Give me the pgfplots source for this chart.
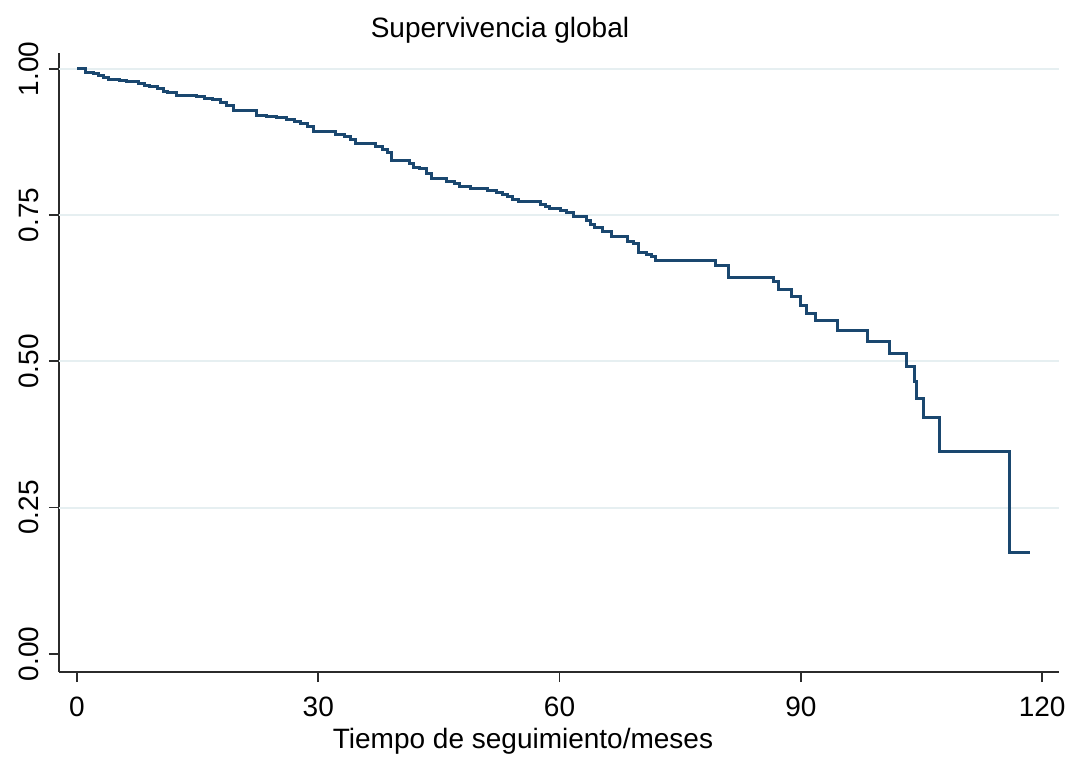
\documentclass[border=0pt]{standalone}
\usepackage{fontspec}
\setmainfont{Liberation Sans}
\usepackage{pgfplots}
\pgfplotsset{compat=1.18}

\definecolor{stnavy}{HTML}{1A476F}
\definecolor{gridc}{HTML}{E6EFF1}
\definecolor{axc}{HTML}{2B2B2B}

% Kaplan-Meier estimate: time (months), survival after the step
\pgfplotstableread{
t S
0 1.000
1.0 0.994
2.0 0.992
2.7 0.988
3.3 0.985
3.9 0.982
5.3 0.980
6.2 0.978
7.6 0.975
8.4 0.972
9.0 0.969
10.0 0.966
10.8 0.962
11.3 0.959
12.4 0.955
14.9 0.953
15.8 0.950
16.9 0.947
17.8 0.943
18.6 0.938
19.4 0.928
22.3 0.921
23.5 0.919
24.8 0.916
26.1 0.913
27.0 0.910
27.8 0.906
28.6 0.901
29.4 0.893
32.1 0.888
33.3 0.885
34.0 0.879
34.6 0.872
37.1 0.868
38.0 0.862
38.6 0.857
39.1 0.844
41.4 0.838
41.8 0.832
42.6 0.829
43.4 0.821
44.1 0.812
46.0 0.808
46.9 0.804
47.6 0.799
48.9 0.796
51.1 0.792
52.1 0.789
52.9 0.786
53.5 0.782
54.2 0.777
54.9 0.773
57.6 0.768
58.2 0.764
58.8 0.761
60.1 0.758
60.9 0.754
61.7 0.748
63.4 0.741
63.8 0.734
64.4 0.728
65.4 0.722
66.5 0.714
68.4 0.705
69.2 0.702
69.8 0.686
70.8 0.682
71.4 0.679
71.9 0.673
79.4 0.664
81.0 0.644
86.6 0.636
87.2 0.622
88.9 0.610
89.9 0.595
90.7 0.582
91.8 0.569
94.5 0.552
98.3 0.534
101.0 0.514
103.1 0.491
104.1 0.465
104.4 0.437
105.2 0.404
107.3 0.346
116.0 0.173
118.5 0.173
}\kmdata

\begin{document}
\fontsize{14}{16}\selectfont
\begin{tikzpicture}
\begin{axis}[
  scale only axis,
  width=500pt, height=309.5pt,
  xmin=-2.24, xmax=122.1,
  ymin=-0.031, ymax=1.027,
  axis x line*=bottom, axis y line*=left,
  axis line style={axc, line width=1pt},
  tick style={axc, line width=0.9pt},
  tick align=outside,
  major tick length=5pt,
  xtick={0,30,60,90,120},
  ytick={0,0.25,0.5,0.75,1},
  yticklabels={0.00,0.25,0.50,0.75,1.00},
  extra y ticks={0.25,0.5,0.75,1},
  extra y tick labels={},
  extra y tick style={grid=major, major tick length=0pt},
  major grid style={gridc, line width=1pt},
  /pgf/number format/assume math mode=true,
  ticklabel style={font=\fontsize{14}{16}\selectfont},
  xticklabel style={yshift=-2.5pt},
  yticklabel style={rotate=90, anchor=south},
  title={Supervivencia global},
  title style={at={(rel axis cs:0.441,1)}, anchor=base, yshift=1.5pt,
    font=\fontsize{14}{16}\selectfont},
  xlabel={Tiempo de seguimiento/meses},
  xlabel style={at={(rel axis cs:0.464,0)}, anchor=base, yshift=-38pt,
    font=\fontsize{14}{16}\selectfont},
  clip=false,
]
\addplot[const plot, stnavy, line width=1.5pt] table[x=t, y=S] {\kmdata};
\end{axis}
\pgfresetboundingbox
\path[use as bounding box] (-29.5pt,-42pt) rectangle (506.5pt,336pt);
\end{tikzpicture}
\end{document}
